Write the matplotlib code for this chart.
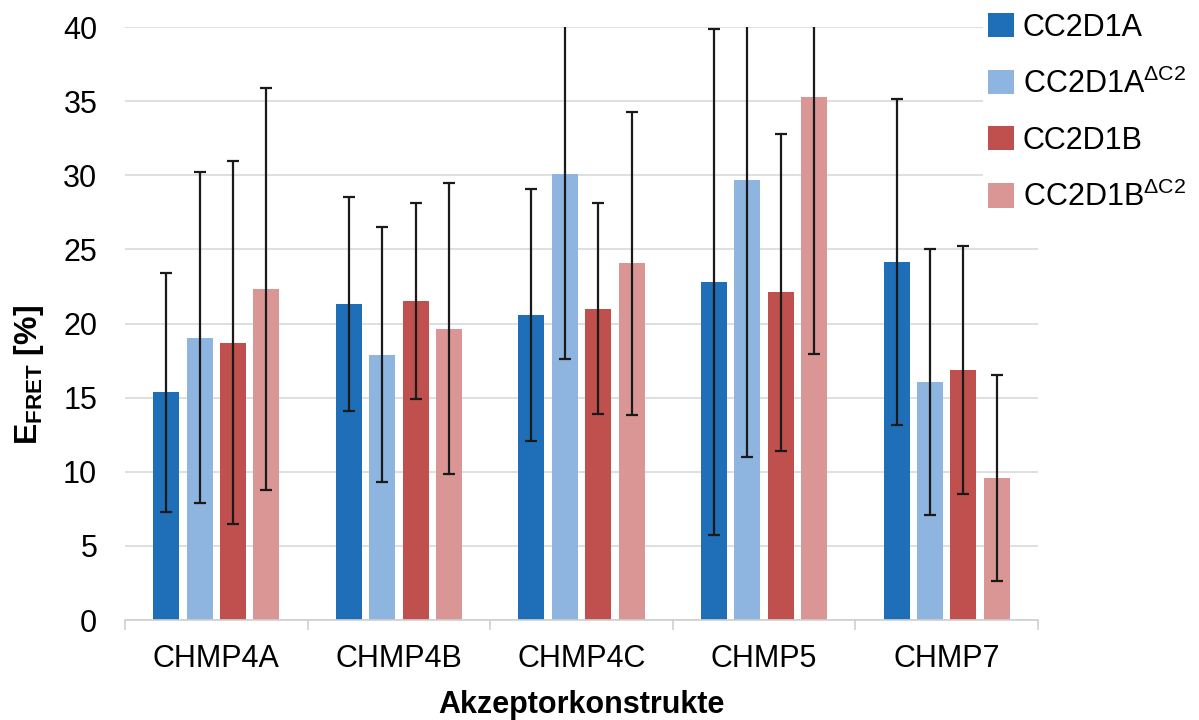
import matplotlib
matplotlib.use("Agg")
import matplotlib.pyplot as plt
import numpy as np

plt.rcParams['font.family'] = ['Liberation Sans', 'DejaVu Sans']
plt.rcParams['mathtext.fontset'] = 'custom'
plt.rcParams['mathtext.rm'] = 'Liberation Sans'
plt.rcParams['mathtext.bf'] = 'Liberation Sans:bold'

# data
categories = ["CHMP4A", "CHMP4B", "CHMP4C", "CHMP5", "CHMP7"]
series_labels = ["CC2D1A", r"CC2D1A$^{\mathrm{\Delta C2}}$",
                 "CC2D1B", r"CC2D1B$^{\mathrm{\Delta C2}}$"]
cc2d1a = [15.35, 21.3, 20.55, 22.8, 24.15]
cc2d1a_err = [8.05, 7.2, 8.5, 17.05, 11.0]
cc2d1a_dc2 = [19.05, 17.9, 30.1, 29.7, 16.05]
cc2d1a_dc2_err = [11.15, 8.6, 12.5, 18.7, 8.95]
cc2d1b = [18.7, 21.5, 21.0, 22.1, 16.85]
cc2d1b_err = [12.25, 6.6, 7.1, 10.7, 8.35]
cc2d1b_dc2 = [22.35, 19.65, 24.05, 35.3, 9.6]
cc2d1b_dc2_err = [13.55, 9.8, 10.25, 17.35, 6.95]

values = [cc2d1a, cc2d1a_dc2, cc2d1b, cc2d1b_dc2]
errors = [cc2d1a_err, cc2d1a_dc2_err, cc2d1b_err, cc2d1b_dc2_err]
colors = ["#1F6FB8", "#8EB4E0", "#C0504D", "#D99694"]

fig = plt.figure(figsize=(11.99, 7.2), dpi=100)
ax = fig.add_axes([125 / 1199, 100 / 720, 913 / 1199, 593 / 720])

x = np.arange(len(categories))
step = 0.1826
width = 0.1425
for i in range(4):
    pos = x + (i - 1.5) * step
    ax.bar(pos, values[i], width, color=colors[i], label=series_labels[i], zorder=2)
    ax.errorbar(pos, values[i], yerr=errors[i], fmt='none', ecolor='#1a1a1a',
                elinewidth=1.6, capsize=4, capthick=1.6, zorder=3)

ax.set_xlim(-0.5, len(categories) - 0.5)
ax.set_ylim(0, 40)
ax.set_yticks(range(0, 41, 5))
ax.yaxis.grid(True, color='#d9d9d9', linewidth=1.2, zorder=0)
ax.set_axisbelow(True)
for s in ['top', 'right', 'left']:
    ax.spines[s].set_visible(False)
ax.spines['bottom'].set_color('#d0d0d0')
ax.spines['bottom'].set_linewidth(1.2)

ax.set_xticks(x)
ax.set_xticklabels(categories, fontsize=22)
ax.set_xticks(np.arange(-0.5, len(categories), 1.0), minor=True)
ax.tick_params(axis='x', which='major', length=0, pad=17)
ax.tick_params(axis='x', which='minor', length=7, color='#d0d0d0', width=1.2)
ax.tick_params(axis='y', length=0, pad=20, labelsize=22)

fig.text(581 / 1199, 7 / 720, "Akzeptorkonstrukte", ha='center', va='baseline',
         fontsize=22, fontweight='bold')
fig.text(29 / 1199, 345 / 720, r"$\mathbf{E}_{\mathbf{FRET}}$ [%]", rotation=90,
         ha='center', va='center', fontsize=23, fontweight='bold')

leg = ax.legend(loc='upper left', bbox_to_anchor=(983 / 1199, 1 - 8 / 720),
                bbox_transform=fig.transFigure, fontsize=22, frameon=True,
                facecolor='white', edgecolor='none', framealpha=1,
                handlelength=0.85, handleheight=0.85, handletextpad=0.3,
                labelspacing=0.85, borderpad=0.15, borderaxespad=0)

fig.savefig("out.png", dpi=100)
